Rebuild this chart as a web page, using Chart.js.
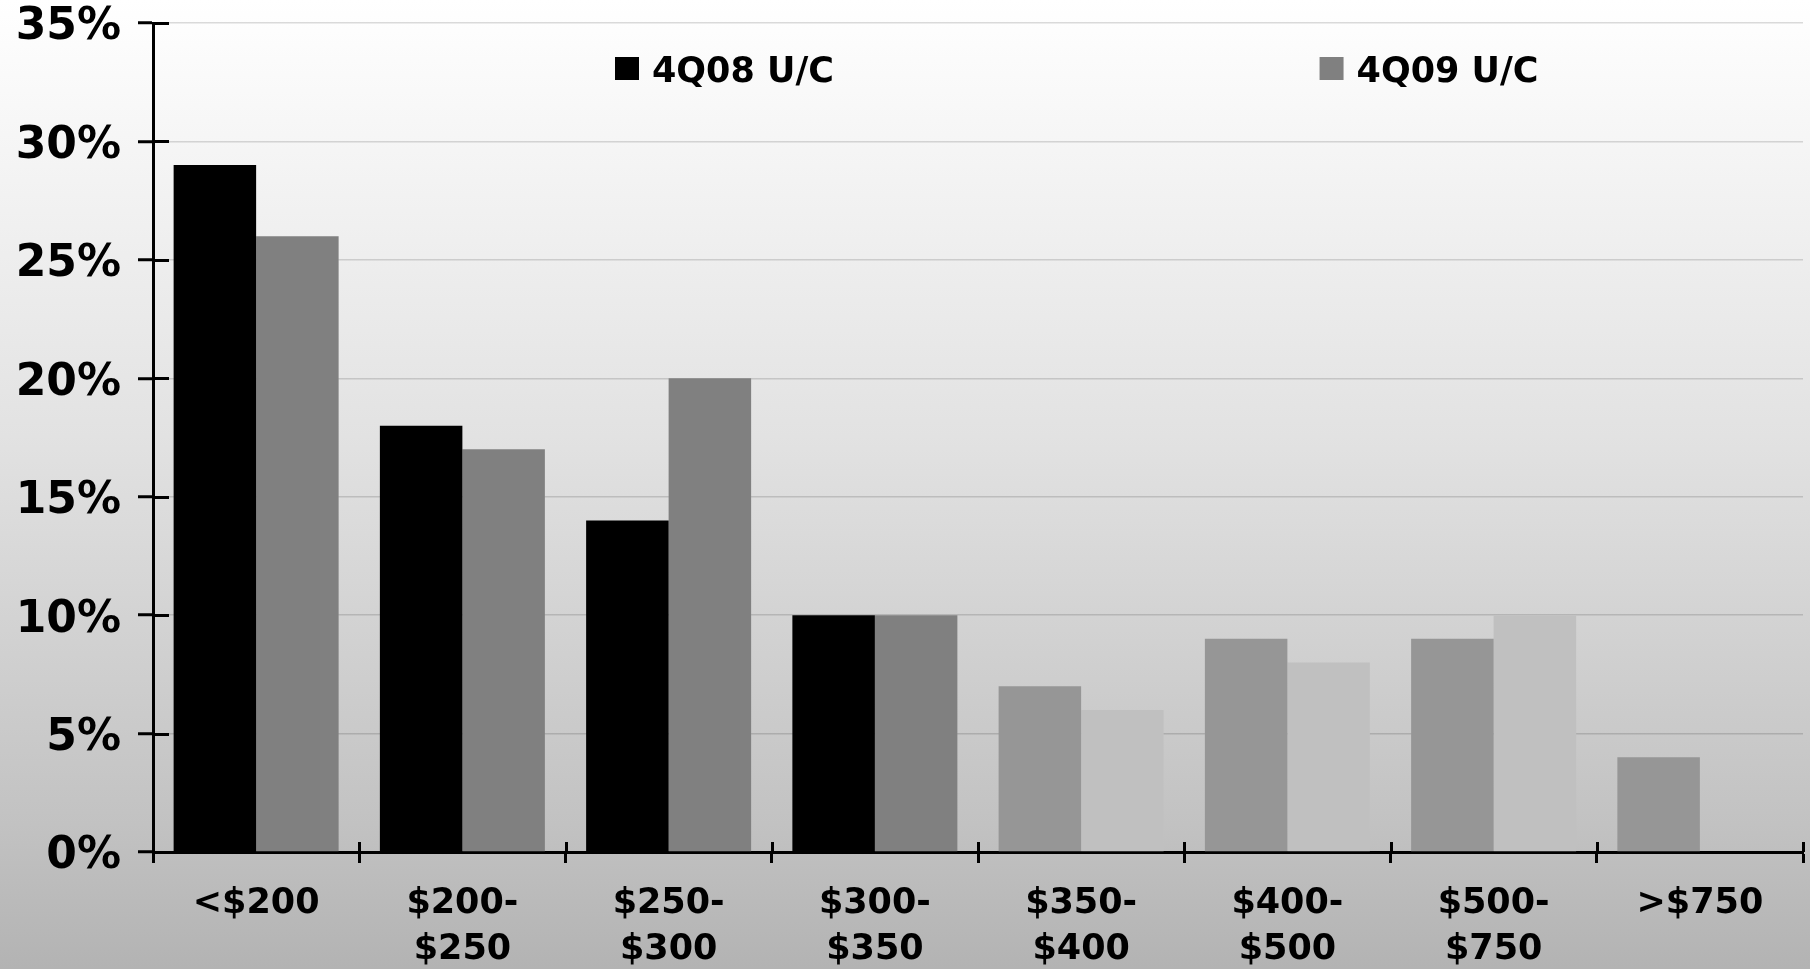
<!DOCTYPE html>
<html>
<head>
<meta charset="utf-8">
<title>Under construction by price band</title>
<script src="https://cdn.jsdelivr.net/npm/chart.js@4/dist/chart.umd.min.js"></script>
<style>
  html, body { margin: 0; padding: 0; }
  body {
    width: 1810px; height: 969px; overflow: hidden;
    background: linear-gradient(to bottom, #ffffff 0%, #e2e2e2 45%, #c2c2c2 85%, #b3b3b3 100%);
  }
  canvas { display: block; }
</style>
</head>
<body>
<canvas id="chart" width="1810" height="969"></canvas>
<script>
// Price bands (multi-line labels as arrays)
const categories = [
  '<$200',
  ['$200-', '$250'],
  ['$250-', '$300'],
  ['$300-', '$350'],
  ['$350-', '$400'],
  ['$400-', '$500'],
  ['$500-', '$750'],
  '>$750'
];

// Share of units under construction, percent
const seriesNames = ['4Q08 U/C', '4Q09 U/C'];
const q408 = [29, 18, 14, 10, 7, 9, 9, 4];
const q409 = [26, 17, 20, 10, 6, 8, 10, 0];

// Axis ticks, percent
const yTicks = [0, 5, 10, 15, 20, 25, 30, 35];

// Bar fills: the upper price bands are shown in lighter shades
const q408Colors = ['#000000', '#000000', '#000000', '#000000', '#969696', '#969696', '#969696', '#969696'];
const q409Colors = ['#808080', '#808080', '#808080', '#808080', '#c0c0c0', '#c0c0c0', '#c0c0c0', '#c0c0c0'];
const legendColors = ['#000000', '#808080'];

const FONT = 'DejaVu Sans';

// Short black tick stubs on the plot side of both axes
const innerTicks = {
  id: 'innerTicks',
  afterDraw(chart) {
    const { ctx, chartArea, scales } = chart;
    ctx.save();
    ctx.strokeStyle = '#000';
    ctx.lineWidth = 3;
    const y = scales.y;
    y.ticks.forEach((t, i) => {
      const py = Math.round(y.getPixelForTick(i)) + 0.5;
      ctx.beginPath();
      ctx.moveTo(chartArea.left, py);
      ctx.lineTo(chartArea.left + 16, py);
      ctx.stroke();
    });
    const n = chart.data.labels.length;
    const step = (chartArea.right - chartArea.left) / n;
    for (let i = 0; i <= n; i++) {
      const px = Math.round(chartArea.left + i * step) + 0.5;
      ctx.beginPath();
      ctx.moveTo(px, chartArea.bottom);
      ctx.lineTo(px, chartArea.bottom - 10);
      ctx.stroke();
    }
    ctx.restore();
  }
};

// Legend drawn inside the plot, one entry per series
const inlineLegend = {
  id: 'inlineLegend',
  afterDraw(chart) {
    const { ctx, chartArea } = chart;
    const w = chartArea.right - chartArea.left;
    const starts = [chartArea.left + w * 0.28, chartArea.left + w * 0.707];
    ctx.save();
    ctx.font = 'bold 35px "' + FONT + '"';
    ctx.textBaseline = 'alphabetic';
    ctx.textAlign = 'left';
    chart.data.datasets.forEach((ds, i) => {
      const x0 = starts[i];
      ctx.fillStyle = legendColors[i];
      ctx.fillRect(x0, 57, 24, 23);
      ctx.fillStyle = '#000';
      ctx.fillText(ds.label, x0 + 37, 82);
    });
    ctx.restore();
  }
};

new Chart(document.getElementById('chart'), {
  type: 'bar',
  data: {
    labels: categories,
    datasets: [
      { label: seriesNames[0], data: q408, backgroundColor: q408Colors, borderWidth: 0 },
      { label: seriesNames[1], data: q409, backgroundColor: q409Colors, borderWidth: 0 }
    ]
  },
  options: {
    responsive: false,
    animation: false,
    devicePixelRatio: 1,
    categoryPercentage: 0.8,
    barPercentage: 1.0,
    layout: { padding: { top: 23, right: 7, left: 0, bottom: 0 } },
    plugins: {
      legend: { display: false },
      tooltip: { enabled: false }
    },
    scales: {
      x: {
        grid: {
          drawOnChartArea: false,
          color: '#000',
          tickColor: '#000',
          tickWidth: 3,
          tickLength: 11
        },
        border: { color: '#000', width: 3 },
        ticks: {
          color: '#000',
          font: { family: FONT, size: 35, weight: 'bold', lineHeight: 1.31 },
          padding: 18,
          maxRotation: 0,
          autoSkip: false
        },
        afterFit(scale) { scale.height = 117; scale.paddingLeft = 0; scale.paddingRight = 0; }
      },
      y: {
        min: yTicks[0],
        max: yTicks[yTicks.length - 1],
        afterBuildTicks(scale) { scale.ticks = yTicks.map(v => ({ value: v })); },
        grid: {
          color: 'rgba(0,0,0,0.14)',
          lineWidth: 1.5,
          tickColor: '#000',
          tickWidth: 3,
          tickLength: 15
        },
        border: { color: '#000', width: 3 },
        ticks: {
          color: '#000',
          font: { family: FONT, size: 44, weight: 'bold', lineHeight: 1 },
          padding: 17,
          labelOffset: 5,
          callback: v => v + '%'
        },
        afterFit(scale) { scale.width = 153; scale.paddingTop = 0; scale.paddingBottom = 0; }
      }
    }
  },
  plugins: [innerTicks, inlineLegend]
});
</script>
</body>
</html>
